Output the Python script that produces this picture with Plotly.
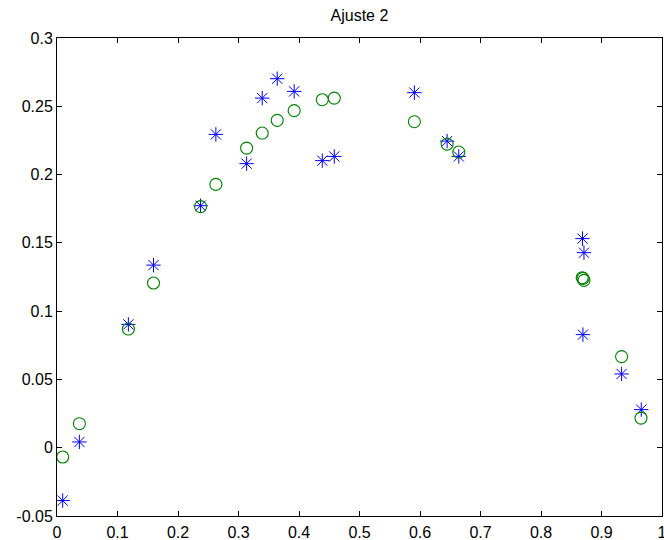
import plotly.graph_objects as go

x_star = [0.0094, 0.037, 0.118, 0.1595, 0.2373, 0.2626, 0.3134, 0.3392, 0.364, 0.392,
          0.4385, 0.4583, 0.5907, 0.6448, 0.6641, 0.8686, 0.871, 0.8693, 0.9332, 0.9657]
y_star = [-0.0387, 0.0042, 0.0903, 0.1337, 0.1772, 0.2294, 0.208, 0.256, 0.2702, 0.2609,
          0.2102, 0.2133, 0.260, 0.2245, 0.2133, 0.1531, 0.1428, 0.0828, 0.054, 0.0279]

x_circ = [0.0094, 0.037, 0.118, 0.1595, 0.2373, 0.2626, 0.3134, 0.3392, 0.364, 0.392,
          0.4385, 0.4583, 0.5907, 0.6448, 0.6641, 0.8681, 0.871, 0.8695, 0.9332, 0.9653]
y_circ = [-0.0068, 0.0176, 0.0869, 0.1206, 0.1765, 0.1928, 0.2194, 0.2304, 0.2397, 0.2468,
          0.2548, 0.256, 0.2387, 0.2223, 0.2165, 0.1245, 0.1225, 0.1240, 0.0667, 0.0217]

x_ticks = [0, 0.1, 0.2, 0.3, 0.4, 0.5, 0.6, 0.7, 0.8, 0.9, 1]
x_labels = ["0", "0.1", "0.2", "0.3", "0.4", "0.5", "0.6", "0.7", "0.8", "0.9", "1"]
y_ticks = [-0.05, 0, 0.05, 0.1, 0.15, 0.2, 0.25, 0.3]
y_labels = ["-0.05", "0", "0.05", "0.1", "0.15", "0.2", "0.25", "0.3"]

fig = go.Figure()
fig.add_trace(go.Scatter(
    x=x_star, y=y_star, mode="markers",
    marker=dict(symbol="asterisk-open", size=12, color="#0000ff",
                line=dict(color="#0000ff", width=1)),
    showlegend=False))
fig.add_trace(go.Scatter(
    x=x_circ, y=y_circ, mode="markers",
    marker=dict(symbol="circle-open", size=12, color="#008000",
                line=dict(color="#008000", width=1.1)),
    showlegend=False))

font_family = "Liberation Sans, Arial, sans-serif"
axis_common = dict(showgrid=False, zeroline=False, showline=True, mirror="ticks",
                   linecolor="#000000", linewidth=1, ticks="inside", ticklen=5,
                   tickcolor="#000000", ticklabeloverflow="allow", automargin=False,
                   tickfont=dict(family=font_family, size=16, color="#000000"))

fig.update_layout(
    width=664, height=540,
    margin=dict(l=57, r=2, t=38, b=24),
    paper_bgcolor="white", plot_bgcolor="white",
    title=dict(text="Ajuste 2", x=0.5413, xanchor="center", y=0.972, yanchor="middle",
               font=dict(family=font_family, size=16, color="#000000")),
    xaxis=dict(range=[0, 1], tickvals=x_ticks, ticktext=x_labels, ticklabelstandoff=2, **axis_common),
    yaxis=dict(range=[-0.05, 0.3], tickvals=y_ticks, ticktext=y_labels, **axis_common),
)

fig.write_html("out.html")
